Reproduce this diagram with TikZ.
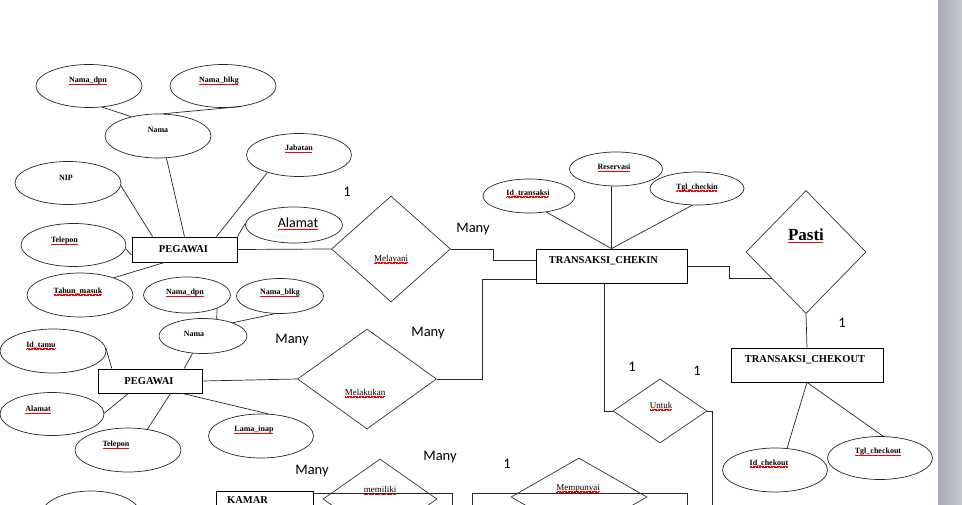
\documentclass[tikz,border=0pt]{standalone}
\usepackage{fontspec}
\setmainfont{Liberation Serif}
\newfontfamily\calibri{Carlito}
\usetikzlibrary{shapes.geometric}
\definecolor{barGray}{HTML}{C6C9CE}
\definecolor{barEdge}{HTML}{A7ABB1}
\newsavebox\splbox
\newcommand{\spl}[1]{\sbox\splbox{#1}\rlap{\raisebox{-2pt}[0pt][0pt]{\textcolor{red}{\hbox to \wd\splbox{\leaders\hbox{\rule{0.6pt}{0.45pt}\raisebox{0.45pt}{\rule{0.6pt}{0.45pt}}}\hfill}}}}\usebox\splbox}

\begin{document}
\begin{tikzpicture}[
x=1pt, y=-1pt,
attr/.style={draw=black!85, line width=0.7pt, ellipse, inner sep=0pt},
atxt/.style={font=\bfseries\fontsize{8}{9}\selectfont},
rel/.style={draw=black!80, line width=0.7pt, diamond, inner sep=0pt},
rtxt/.style={font=\fontsize{9}{10}\selectfont},
ent/.style={draw=black, line width=0.8pt, rectangle, inner sep=0pt},
etxt/.style={font=\bfseries\fontsize{10.5}{12}\selectfont},
card/.style={font=\calibri\fontsize{14.5}{16}\selectfont},
link/.style={draw=black!85, line width=0.7pt}
]
\useasboundingbox (0,0) rectangle (962,505);
\clip (0,0) rectangle (962,505);

\node[ent, minimum width=105, minimum height=25, label={[etxt, shift={(-1,0)}]center:PEGAWAI}] (peg1) at (184.5,249.5) {};
\node[ent, minimum width=104, minimum height=24, label={[etxt, shift={(-1,0)}]center:PEGAWAI}] (peg2) at (150,381) {};
\node[ent, minimum width=151, minimum height=34, label={[etxt, shift={(-8,-5)}]center:TRANSAKSI\_CHEKIN}] (chekin) at (611.5,266) {};
\node[ent, minimum width=152, minimum height=34, label={[etxt, shift={(-2,-5)}]center:TRANSAKSI\_CHEKOUT}] (chekout) at (807,365) {};
\node[ent, minimum width=97, minimum height=38, label={[etxt, shift={(-17,-10)}]center:KAMAR}] (kamar) at (264.5,510) {};

\node[attr, minimum width=106, minimum height=43, label={[atxt, shift={(-1,-5)}]center:\spl{Nama\_dpn}}] (dpn1) at (89,86) {};
\node[attr, minimum width=106, minimum height=43, label={[atxt, shift={(-4,-5)}]center:\spl{Nama\_blkg}}] (blkg1) at (223,86) {};
\node[attr, minimum width=106, minimum height=44, label={[atxt, shift={(0,-6)}]center:Nama}] (nama1) at (158,136) {};
\node[attr, minimum width=105, minimum height=43, label={[atxt, shift={(0,-7)}]center:\spl{Jabatan}}] (jabatan) at (299,155) {};
\node[attr, minimum width=106, minimum height=43, label={[atxt, shift={(-2,-5)}]center:NIP}] (nip) at (68,183) {};
\node[attr, minimum width=97, minimum height=36, label={[font=\calibri\fontsize{14}{16}\selectfont, shift={(4,-2)}]center:\spl{Alamat}}] (alamat1) at (294,225) {};
\node[attr, minimum width=105, minimum height=43, label={[atxt, shift={(-9,-4)}]center:\spl{Telepon}}] (telp1) at (73.5,245) {};
\node[attr, minimum width=106, minimum height=44, label={[atxt, shift={(-2,-4)}]center:\spl{Tahun\_masuk}}] (tahun) at (80,295) {};

\node[attr, minimum width=87, minimum height=36, label={[atxt, shift={(-2,-2)}]center:\spl{Nama\_dpn}}] (dpn2) at (187,295) {};
\node[attr, minimum width=87, minimum height=35, label={[atxt, shift={(0,-3)}]center:\spl{Nama\_blkg}}] (blkg2) at (280,296) {};
\node[attr, minimum width=88, minimum height=35, label={[atxt, shift={(-9,-2)}]center:Nama}] (nama2) at (203,336) {};
\node[attr, minimum width=106, minimum height=44, label={[atxt, shift={(-12,-6)}]center:\spl{Id\_tamu}}] (idtamu) at (53,351) {};
\node[attr, minimum width=104, minimum height=43, label={[atxt, shift={(-14,-5)}]center:\spl{Alamat}}] (alamat2) at (52,414) {};
\node[attr, minimum width=106, minimum height=44, label={[atxt, shift={(-12,-5)}]center:\spl{Telepon}}] (telp2) at (128,450) {};
\node[attr, minimum width=105, minimum height=44, label={[atxt, shift={(-7,-6)}]center:\spl{Lama\_inap}}] (lama) at (261,436) {};
\node[attr, minimum width=98, minimum height=46] (kamarattr) at (91,514) {};

\node[attr, minimum width=92, minimum height=34, label={[atxt, shift={(-1,-3)}]center:\spl{Id\_transaksi}}] (idtr) at (529,196) {};
\node[attr, minimum width=93, minimum height=34, label={[atxt, shift={(-2,-2)}]center:\spl{Reservasi}}] (res) at (616,169) {};
\node[attr, minimum width=94, minimum height=33, label={[atxt, shift={(0,-1)}]center:\spl{Tgl\_checkin}}] (tglci) at (697,188.5) {};
\node[attr, minimum width=105, minimum height=44, label={[atxt, shift={(-6,-7)}]center:\spl{Id\_chekout}}] (idco) at (775,470) {};
\node[attr, minimum width=105, minimum height=43, label={[atxt, shift={(-2,-6)}]center:\spl{Tgl\_checkout}}] (tglco) at (880,458) {};

\node[rel, minimum width=119, minimum height=106, label={[rtxt, shift={(0,10)}]center:\spl{Melayani}}] (melayani) at (391,249) {};
\node[rel, minimum width=139, minimum height=100, label={[rtxt, shift={(-2,13)}]center:\spl{Melakukan}}] (melakukan) at (367,379) {};
\node[rel, minimum width=94, minimum height=64, label={[rtxt, shift={(1,-6)}]center:\spl{Untuk}}] (untuk) at (660,411) {};
\node[rel, minimum width=120, minimum height=123, label={[font=\bfseries\fontsize{17}{19}\selectfont, shift={(0,-17)}]center:\spl{Pasti}}] (pasti) at (806,252) {};
\node[rel, minimum width=114, minimum height=80, label={[rtxt, shift={(0,-10)}]center:\spl{memiliki}}] (memiliki) at (380,499) {};
\node[rel, minimum width=136, minimum height=78, label={[rtxt, shift={(-1,-9)}]center:\spl{Mempunyai}}] (mempunyai) at (579,497) {};

\coordinate (untukend) at (712,512);
\coordinate (kamarend) at (452,512);
\coordinate (punyaA) at (472,512);
\coordinate (punyaB) at (687,512);

\draw[link] (dpn1.-58) -- (nama1.144);
\draw[link] (blkg1.-48) -- (nama1.77);
\draw[link] (nama1.-69) -- (peg1.north);
\draw[link] (nip.-3) -- (peg1.158);
\draw[link] (jabatan.-151) -- (peg1.22);
\draw[link] (alamat1.178) -- (peg1.north east);
\draw[link] (telp1.-4) -- (peg1.186);
\draw[link] (tahun.27) -- (peg1.213);
\draw[link] (peg1.east) -- (melayani.west);
\draw[link] (melayani.east) -- ++(42,0) |- (chekin.176);

\draw[link] (idtr.-43) -- (chekin.north);
\draw[link] (chekin.north) -- (chekin.north |- res.south);
\draw[link] (tglci.-106) -- (chekin.north);
\draw[link] (chekin.190) -- ++(-53,0) |- (melakukan.east);
\draw[link] (peg2.east) -- (melakukan.west);

\draw[link] (dpn2.-24) -- (nama2.51);
\draw[link] (blkg2.-106) -- (nama2.24);
\draw[link] (nama2.-121) -- (peg2.20);
\draw[link] (idtamu.3) -- (peg2.162);
\draw[link] (alamat2.1) -- (peg2.210);
\draw[link] (telp2.47) -- (peg2.-31);
\draw[link] (lama.72) -- (peg2.-21);

\draw[link] (chekin.-111) |- (untuk.west);
\draw[link] (untuk.east) -| (untukend);
\draw[link] (chekin.east) -- ++(42,0) |- (pasti.218);
\draw[link] (pasti.south) -- (chekout.north);
\draw[link] (chekout.south) -- (idco.61);
\draw[link] (chekout.south) -- (tglco.82);

\draw[link] (kamar.19) -| (kamarend);
\draw[link] (punyaA) -- ++(0,-19) -| (punyaB);

\node[card] (c1) at (347,192) {1};
\node[card] (c2) at (473,229) {Many};
\node[card] (c3) at (292,340) {Many};
\node[card] (c4) at (428,333) {Many};
\node[card] (c5) at (632,367) {1};
\node[card] (c6) at (697,371) {1};
\node[card] (c7) at (842,323) {1};
\node[card] (c8) at (312,471) {Many};
\node[card] (c9) at (440,457) {Many};
\node[card] (c10) at (507,464) {1};

\shade[left color=barEdge, right color=barGray] (938,0) rectangle (962,505);
\end{tikzpicture}
\end{document}
